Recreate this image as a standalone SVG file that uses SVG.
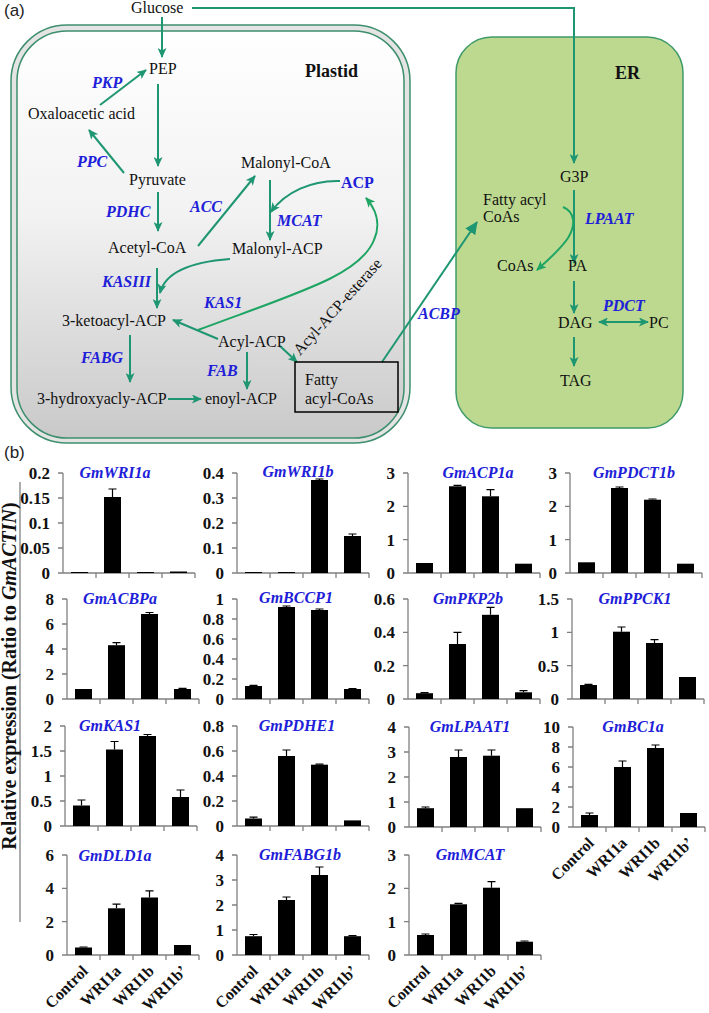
<svg xmlns="http://www.w3.org/2000/svg" width="709" height="1013" viewBox="0 0 709 1013">
<style>
.t{font-family:"Liberation Serif","Times New Roman",serif;font-size:16px;fill:#111}
.e{font-family:"Liberation Serif","Times New Roman",serif;font-size:16px;font-weight:bold;font-style:italic;fill:#2020d8}
.b{font-family:"Liberation Serif","Times New Roman",serif;font-weight:bold;fill:#111}
.lab{font-family:"Liberation Sans",Arial,sans-serif;font-size:17px;fill:#222}
.ar{fill:none;stroke:#1f9672;stroke-width:2}
.cv{fill:none;stroke:#1ea563;stroke-width:2}
.ax{fill:none;stroke:#808080;stroke-width:1.3}
.bar{fill:#000}
.eb{fill:none;stroke:#000;stroke-width:1.2}
.tk{font-family:"Liberation Serif","Times New Roman",serif;font-size:17px;font-weight:bold;fill:#111;text-anchor:end}
.ti{font-family:"Liberation Serif","Times New Roman",serif;font-size:16px;font-weight:bold;font-style:italic;fill:#2020d8;text-anchor:middle}
.xl{font-family:"Liberation Serif","Times New Roman",serif;font-size:16px;font-weight:bold;fill:#111;text-anchor:end}
</style>
<defs>
<linearGradient id="pg" x1="0" y1="0" x2="0" y2="1">
<stop offset="0" stop-color="#ffffff"/>
<stop offset="0.45" stop-color="#f2f2f2"/>
<stop offset="1" stop-color="#c9c9c9"/>
</linearGradient>
<marker id="mt" markerUnits="userSpaceOnUse" markerWidth="11" markerHeight="9" refX="9" refY="4.5" orient="auto-start-reverse"><path d="M0,0 L10,4.5 L0,9 L2.5,4.5 z" fill="#1f9672"/></marker>
<marker id="mg" markerUnits="userSpaceOnUse" markerWidth="11" markerHeight="9" refX="9" refY="4.5" orient="auto"><path d="M0,0 L10,4.5 L0,9 L2.5,4.5 z" fill="#1ea563"/></marker>
<marker id="mb" markerUnits="userSpaceOnUse" markerWidth="14" markerHeight="12" refX="12" refY="6" orient="auto"><path d="M0,0 L13,6 L0,12 z" fill="#1f9672"/></marker>
</defs>
<rect width="709" height="1013" fill="#fff"/>

<text class="lab" x="4" y="16">(a)</text>
<text class="lab" x="4" y="458">(b)</text>

<!-- compartments -->
<g id="plastid">
<rect x="11" y="25" width="399" height="418" rx="56" fill="#e4e4e4" stroke="#3d8f6e" stroke-width="1.5"/>
<rect x="17" y="31" width="387" height="407" rx="50" fill="url(#pg)" stroke="#3d8f6e" stroke-width="1.5"/>
<text class="b" x="305" y="77" font-size="18">Plastid</text>
</g>
<g id="er">
<rect x="456" y="37" width="227" height="391" rx="36" fill="#bcd98f" stroke="#3f9a6a" stroke-width="1.5"/>
<text class="b" x="615" y="79" font-size="18">ER</text>
</g>

<!-- connectors -->
<g id="connectors">
<path class="ar" d="M162,17 V57" marker-end="url(#mt)"/>
<path class="ar" d="M192,8 H574 V163" stroke-width="1.6" marker-end="url(#mt)"/>
<path class="ar" d="M100,105 L146,70" marker-end="url(#mt)"/>
<path class="ar" d="M158,84 V166" marker-end="url(#mt)"/>
<path class="ar" d="M124,173 L89,130" marker-end="url(#mt)"/>
<path class="ar" d="M158,192 V231" marker-end="url(#mt)"/>
<path class="ar" d="M198,246 L255,176" marker-end="url(#mt)"/>
<path class="ar" d="M270,180 V240" marker-end="url(#mt)"/>
<path class="ar" d="M340,181 C312,180 285,192 271,212" marker-end="url(#mt)"/>
<path class="ar" d="M230,259 C190,262 165,272 160,293" marker-end="url(#mt)"/>
<path class="ar" d="M157,268 V308" marker-end="url(#mt)"/>
<path class="cv" d="M198,330 C300,292 360,275 374,240 C382,222 374,207 366,198" marker-end="url(#mg)"/>
<path class="ar" d="M218,339 L173,320" marker-end="url(#mt)"/>
<path class="ar" d="M280,346 L297,362" marker-end="url(#mt)"/>
<path class="ar" d="M130,335 V382" marker-end="url(#mt)"/>
<path class="ar" d="M247,352 V389" marker-end="url(#mt)"/>
<path class="ar" d="M168,399 H201" marker-end="url(#mt)"/>
<path class="ar" d="M382,362 L477,222" stroke-width="3.5" marker-end="url(#mb)"/>
<path class="ar" d="M574,190 V263" marker-end="url(#mt)"/>
<path class="cv" d="M563,207 C575,212 576,225 568,238 C560,250 548,260 537,270" marker-end="url(#mg)"/>
<path class="ar" d="M574,281 V313" marker-end="url(#mt)"/>
<path class="ar" d="M599,322 H648" marker-start="url(#mt)" marker-end="url(#mt)"/>
<path class="ar" d="M574,337 V366" marker-end="url(#mt)"/>
</g>

<!-- metabolite nodes -->
<g id="n-glucose"><text class="t" x="131" y="13">Glucose</text></g>
<g id="n-pep"><text class="t" x="149" y="74">PEP</text></g>
<g id="n-oaa"><text class="t" x="28" y="119">Oxaloacetic acid</text></g>
<g id="n-pyruvate"><text class="t" x="129" y="185">Pyruvate</text></g>
<g id="n-malcoa"><text class="t" x="241" y="168">Malonyl-CoA</text></g>
<g id="n-acp"><text class="b" x="341" y="188" font-size="16" style="fill:#2020d8">ACP</text></g>
<g id="n-acetylcoa"><text class="t" x="108" y="253">Acetyl-CoA</text></g>
<g id="n-malacp"><text class="t" x="232" y="254">Malonyl-ACP</text></g>
<g id="n-ketoacyl"><text class="t" x="62" y="326">3-ketoacyl-ACP</text></g>
<g id="n-acylacp"><text class="t" x="218" y="347">Acyl-ACP</text></g>
<g id="n-hydroxy"><text class="t" x="37" y="404">3-hydroxyacly-ACP</text></g>
<g id="n-enoyl"><text class="t" x="205" y="404">enoyl-ACP</text></g>
<g id="n-fattybox"><rect x="295" y="362" width="103" height="50" fill="none" stroke="#000" stroke-width="1.5"/><text class="t" x="305" y="385">Fatty</text><text class="t" x="305" y="404">acyl-CoAs</text></g>
<g id="n-g3p"><text class="t" x="560" y="182">G3P</text></g>
<g id="n-facoas"><text class="t" x="483" y="205">Fatty acyl</text><text class="t" x="483" y="222">CoAs</text></g>
<g id="n-coas"><text class="t" x="497" y="271">CoAs</text></g>
<g id="n-pa"><text class="t" x="568" y="271">PA</text></g>
<g id="n-dag"><text class="t" x="558" y="328">DAG</text></g>
<g id="n-pc"><text class="t" x="649" y="328">PC</text></g>
<g id="n-tag"><text class="t" x="560" y="386">TAG</text></g>

<!-- enzyme labels -->
<g id="enzymes">
<text class="e" x="92" y="88">PKP</text>
<text class="e" x="77" y="167">PPC</text>
<text class="e" x="190" y="212">ACC</text>
<text class="e" x="106" y="217">PDHC</text>
<text class="e" x="277" y="226">MCAT</text>
<text class="e" x="102" y="287">KASIII</text>
<text class="e" x="204" y="308">KAS1</text>
<text class="e" x="81" y="363">FABG</text>
<text class="e" x="207" y="376">FAB</text>
<text class="e" x="418" y="319">ACBP</text>
<text class="e" x="585" y="224">LPAAT</text>
<text class="e" x="603" y="311">PDCT</text>
<text class="t" transform="translate(300,356) rotate(-48)">Acyl-ACP-esterase</text>
</g>

<!-- panel b -->
<g id="yaxis-title">
<line x1="20" y1="482" x2="20" y2="922" stroke="#808080" stroke-width="1.3"/>
<text class="b" font-size="20" text-anchor="middle" transform="translate(16,676) rotate(-90)">Relative expression (Ratio to <tspan font-style="italic">GmACTIN</tspan>)</text>
</g>

<!-- Row 1 -->
<g id="c-GmWRI1a" transform="translate(63,573)">
<path class="ax" d="M0,0V-100M-5,0H0M-5,-25H0M-5,-50H0M-5,-75H0M-5,-100H0M0,0H132M33,0v5M66,0v5M99,0v5M132,0v5"/>
<text class="tk" x="-13" y="6">0</text><text class="tk" x="-13" y="-19">0.05</text><text class="tk" x="-13" y="-44">0.1</text><text class="tk" x="-13" y="-69">0.15</text><text class="tk" x="-13" y="-94">0.2</text>
<rect class="bar" x="8" y="-1" width="17" height="1"/><rect class="bar" x="41" y="-76" width="17" height="76"/><rect class="bar" x="74" y="-1" width="17" height="1"/><rect class="bar" x="107" y="-1.5" width="17" height="1.5"/>
<path class="eb" d="M49.5,-76V-84M45.5,-84h8"/>
<text class="ti" x="52" y="-95">GmWRI1a</text>
</g>
<g id="c-GmWRI1b" transform="translate(237,573)">
<path class="ax" d="M0,0V-100M-5,0H0M-5,-25H0M-5,-50H0M-5,-75H0M-5,-100H0M0,0H132M33,0v5M66,0v5M99,0v5M132,0v5"/>
<text class="tk" x="-13" y="6">0</text><text class="tk" x="-13" y="-19">0.1</text><text class="tk" x="-13" y="-44">0.2</text><text class="tk" x="-13" y="-69">0.3</text><text class="tk" x="-13" y="-94">0.4</text>
<rect class="bar" x="8" y="-1" width="17" height="1"/><rect class="bar" x="41" y="-1" width="17" height="1"/><rect class="bar" x="74" y="-93" width="17" height="93"/><rect class="bar" x="107" y="-37" width="17" height="37"/>
<path class="eb" d="M82.5,-93V-94M78.5,-94h8M115.5,-37V-39M111.5,-39h8"/>
<text class="ti" x="61" y="-96">GmWRI1b</text>
</g>
<g id="c-GmACP1a" transform="translate(408,573)">
<path class="ax" d="M0,0V-100M-5,0H0M-5,-33.3H0M-5,-66.7H0M-5,-100H0M0,0H132M33,0v5M66,0v5M99,0v5M132,0v5"/>
<text class="tk" x="-13" y="6">0</text><text class="tk" x="-13" y="-27">1</text><text class="tk" x="-13" y="-61">2</text><text class="tk" x="-13" y="-94">3</text>
<rect class="bar" x="8" y="-10" width="17" height="10"/><rect class="bar" x="41" y="-86.7" width="17" height="86.7"/><rect class="bar" x="74" y="-76.7" width="17" height="76.7"/><rect class="bar" x="107" y="-9.3" width="17" height="9.3"/>
<path class="eb" d="M49.5,-86.7V-87.7M45.5,-87.7h8M82.5,-76.7V-83.3M78.5,-83.3h8"/>
<text class="ti" x="70" y="-95">GmACP1a</text>
</g>
<g id="c-GmPDCT1b" transform="translate(570,573)">
<path class="ax" d="M0,0V-100M-5,0H0M-5,-33.3H0M-5,-66.7H0M-5,-100H0M0,0H132M33,0v5M66,0v5M99,0v5M132,0v5"/>
<text class="tk" x="-13" y="6">0</text><text class="tk" x="-13" y="-27">1</text><text class="tk" x="-13" y="-61">2</text><text class="tk" x="-13" y="-94">3</text>
<rect class="bar" x="8" y="-10.7" width="17" height="10.7"/><rect class="bar" x="41" y="-85" width="17" height="85"/><rect class="bar" x="74" y="-73.3" width="17" height="73.3"/><rect class="bar" x="107" y="-9.3" width="17" height="9.3"/>
<path class="eb" d="M49.5,-85V-86M45.5,-86h8M82.5,-73.3V-74M78.5,-74h8"/>
<text class="ti" x="64" y="-95">GmPDCT1b</text>
</g>

<!-- Row 2 -->
<g id="c-GmACBPa" transform="translate(67,699)">
<path class="ax" d="M0,0V-100M-5,0H0M-5,-25H0M-5,-50H0M-5,-75H0M-5,-100H0M0,0H132M33,0v5M66,0v5M99,0v5M132,0v5"/>
<text class="tk" x="-13" y="6">0</text><text class="tk" x="-13" y="-19">2</text><text class="tk" x="-13" y="-44">4</text><text class="tk" x="-13" y="-69">6</text><text class="tk" x="-13" y="-94">8</text>
<rect class="bar" x="8" y="-10" width="17" height="10"/><rect class="bar" x="41" y="-53.8" width="17" height="53.8"/><rect class="bar" x="74" y="-85" width="17" height="85"/><rect class="bar" x="107" y="-10" width="17" height="10"/>
<path class="eb" d="M49.5,-53.8V-56.3M45.5,-56.3h8M82.5,-85V-86.5M78.5,-86.5h8M115.5,-10V-10.6M111.5,-10.6h8"/>
<text class="ti" x="53" y="-95">GmACBPa</text>
</g>
<g id="c-GmBCCP1" transform="translate(237,699)">
<path class="ax" d="M0,0V-100M-5,0H0M-5,-20H0M-5,-40H0M-5,-60H0M-5,-80H0M-5,-100H0M0,0H132M33,0v5M66,0v5M99,0v5M132,0v5"/>
<text class="tk" x="-13" y="6">0</text><text class="tk" x="-13" y="-14">0.2</text><text class="tk" x="-13" y="-34">0.4</text><text class="tk" x="-13" y="-54">0.6</text><text class="tk" x="-13" y="-74">0.8</text><text class="tk" x="-13" y="-94">1</text>
<rect class="bar" x="8" y="-13" width="17" height="13"/><rect class="bar" x="41" y="-92" width="17" height="92"/><rect class="bar" x="74" y="-89" width="17" height="89"/><rect class="bar" x="107" y="-10" width="17" height="10"/>
<path class="eb" d="M16.5,-13V-13.6M12.5,-13.6h8M49.5,-92V-93M45.5,-93h8M82.5,-89V-90M78.5,-90h8M115.5,-10V-10.5M111.5,-10.5h8"/>
<text class="ti" x="59" y="-96">GmBCCP1</text>
</g>
<g id="c-GmPKP2b" transform="translate(408,699)">
<path class="ax" d="M0,0V-100M-5,0H0M-5,-33.3H0M-5,-66.7H0M-5,-100H0M0,0H132M33,0v5M66,0v5M99,0v5M132,0v5"/>
<text class="tk" x="-13" y="6">0</text><text class="tk" x="-13" y="-27">0.2</text><text class="tk" x="-13" y="-61">0.4</text><text class="tk" x="-13" y="-94">0.6</text>
<rect class="bar" x="8" y="-5.8" width="17" height="5.8"/><rect class="bar" x="41" y="-55" width="17" height="55"/><rect class="bar" x="74" y="-84.2" width="17" height="84.2"/><rect class="bar" x="107" y="-6.7" width="17" height="6.7"/>
<path class="eb" d="M16.5,-5.8V-6.3M12.5,-6.3h8M49.5,-55V-66.7M45.5,-66.7h8M82.5,-84.2V-91.7M78.5,-91.7h8M115.5,-6.7V-8.3M111.5,-8.3h8"/>
<text class="ti" x="60" y="-95">GmPKP2b</text>
</g>
<g id="c-GmPPCK1" transform="translate(572,699)">
<path class="ax" d="M0,0V-100M-5,0H0M-5,-33.3H0M-5,-66.7H0M-5,-100H0M0,0H132M33,0v5M66,0v5M99,0v5M132,0v5"/>
<text class="tk" x="-13" y="6">0</text><text class="tk" x="-13" y="-27">0.5</text><text class="tk" x="-13" y="-61">1</text><text class="tk" x="-13" y="-94">1.5</text>
<rect class="bar" x="8" y="-14" width="17" height="14"/><rect class="bar" x="41" y="-67.3" width="17" height="67.3"/><rect class="bar" x="74" y="-56" width="17" height="56"/><rect class="bar" x="107" y="-22" width="17" height="22"/>
<path class="eb" d="M16.5,-14V-14.7M12.5,-14.7h8M49.5,-67.3V-72M45.5,-72h8M82.5,-56V-59.3M78.5,-59.3h8"/>
<text class="ti" x="63" y="-95">GmPPCK1</text>
</g>

<!-- Row 3 -->
<g id="c-GmKAS1" transform="translate(65,826)">
<path class="ax" d="M0,0V-100M-5,0H0M-5,-25H0M-5,-50H0M-5,-75H0M-5,-100H0M0,0H132M33,0v5M66,0v5M99,0v5M132,0v5"/>
<text class="tk" x="-13" y="6">0</text><text class="tk" x="-13" y="-19">0.5</text><text class="tk" x="-13" y="-44">1</text><text class="tk" x="-13" y="-69">1.5</text><text class="tk" x="-13" y="-94">2</text>
<rect class="bar" x="8" y="-20.5" width="17" height="20.5"/><rect class="bar" x="41" y="-76.5" width="17" height="76.5"/><rect class="bar" x="74" y="-90" width="17" height="90"/><rect class="bar" x="107" y="-29" width="17" height="29"/>
<path class="eb" d="M16.5,-20.5V-26M12.5,-26h8M49.5,-76.5V-84.5M45.5,-84.5h8M82.5,-90V-91.5M78.5,-91.5h8M115.5,-29V-36M111.5,-36h8"/>
<text class="ti" x="45" y="-95">GmKAS1</text>
</g>
<g id="c-GmPDHE1" transform="translate(237,826)">
<path class="ax" d="M0,0V-100M-5,0H0M-5,-25H0M-5,-50H0M-5,-75H0M-5,-100H0M0,0H132M33,0v5M66,0v5M99,0v5M132,0v5"/>
<text class="tk" x="-13" y="6">0</text><text class="tk" x="-13" y="-19">0.2</text><text class="tk" x="-13" y="-44">0.4</text><text class="tk" x="-13" y="-69">0.6</text><text class="tk" x="-13" y="-94">0.8</text>
<rect class="bar" x="8" y="-7.5" width="17" height="7.5"/><rect class="bar" x="41" y="-70" width="17" height="70"/><rect class="bar" x="74" y="-61.3" width="17" height="61.3"/><rect class="bar" x="107" y="-5.6" width="17" height="5.6"/>
<path class="eb" d="M16.5,-7.5V-8.8M12.5,-8.8h8M49.5,-70V-76M45.5,-76h8M82.5,-61.3V-61.9M78.5,-61.9h8"/>
<text class="ti" x="60" y="-95">GmPDHE1</text>
</g>
<g id="c-GmLPAAT1" transform="translate(409,827)">
<path class="ax" d="M0,0V-100M-5,0H0M-5,-25H0M-5,-50H0M-5,-75H0M-5,-100H0M0,0H132M33,0v5M66,0v5M99,0v5M132,0v5"/>
<text class="tk" x="-13" y="6">0</text><text class="tk" x="-13" y="-19">1</text><text class="tk" x="-13" y="-44">2</text><text class="tk" x="-13" y="-69">3</text><text class="tk" x="-13" y="-94">4</text>
<rect class="bar" x="8" y="-18.8" width="17" height="18.8"/><rect class="bar" x="41" y="-70" width="17" height="70"/><rect class="bar" x="74" y="-71.3" width="17" height="71.3"/><rect class="bar" x="107" y="-18.8" width="17" height="18.8"/>
<path class="eb" d="M16.5,-18.8V-20M12.5,-20h8M49.5,-70V-77M45.5,-77h8M82.5,-71.3V-77M78.5,-77h8"/>
<text class="ti" x="61" y="-95">GmLPAAT1</text>
</g>
<g id="c-GmBC1a" transform="translate(573,827)">
<path class="ax" d="M0,0V-100M-5,0H0M-5,-20H0M-5,-40H0M-5,-60H0M-5,-80H0M-5,-100H0M0,0H132M33,0v5M66,0v5M99,0v5M132,0v5"/>
<text class="tk" x="-13" y="6">0</text><text class="tk" x="-13" y="-14">2</text><text class="tk" x="-13" y="-34">4</text><text class="tk" x="-13" y="-54">6</text><text class="tk" x="-13" y="-74">8</text><text class="tk" x="-13" y="-94">10</text>
<rect class="bar" x="8" y="-12" width="17" height="12"/><rect class="bar" x="41" y="-60" width="17" height="60"/><rect class="bar" x="74" y="-79" width="17" height="79"/><rect class="bar" x="107" y="-14" width="17" height="14"/>
<path class="eb" d="M16.5,-12V-14M12.5,-14h8M49.5,-60V-66M45.5,-66h8M82.5,-79V-82M78.5,-82h8"/>
<text class="ti" x="60" y="-95">GmBC1a</text>
<text class="xl" transform="translate(22,17) rotate(-45)">Control</text>
<text class="xl" transform="translate(55,17) rotate(-45)">WRI1a</text>
<text class="xl" transform="translate(88,17) rotate(-45)">WRI1b</text>
<text class="xl" transform="translate(121,17) rotate(-45)">WRI1b’</text>
</g>

<!-- Row 4 -->
<g id="c-GmDLD1a" transform="translate(67,955)">
<path class="ax" d="M0,0V-100M-5,0H0M-5,-33.3H0M-5,-66.7H0M-5,-100H0M0,0H132M33,0v5M66,0v5M99,0v5M132,0v5"/>
<text class="tk" x="-13" y="6">0</text><text class="tk" x="-13" y="-27">2</text><text class="tk" x="-13" y="-61">4</text><text class="tk" x="-13" y="-94">6</text>
<rect class="bar" x="8" y="-7.5" width="17" height="7.5"/><rect class="bar" x="41" y="-46.7" width="17" height="46.7"/><rect class="bar" x="74" y="-57.5" width="17" height="57.5"/><rect class="bar" x="107" y="-10" width="17" height="10"/>
<path class="eb" d="M16.5,-7.5V-8M12.5,-8h8M49.5,-46.7V-50.8M45.5,-50.8h8M82.5,-57.5V-64.2M78.5,-64.2h8"/>
<text class="ti" x="48" y="-94">GmDLD1a</text>
<text class="xl" transform="translate(22,17) rotate(-45)">Control</text>
<text class="xl" transform="translate(55,17) rotate(-45)">WRI1a</text>
<text class="xl" transform="translate(88,17) rotate(-45)">WRI1b</text>
<text class="xl" transform="translate(121,17) rotate(-45)">WRI1b’</text>
</g>
<g id="c-GmFABG1b" transform="translate(237,955)">
<path class="ax" d="M0,0V-100M-5,0H0M-5,-25H0M-5,-50H0M-5,-75H0M-5,-100H0M0,0H132M33,0v5M66,0v5M99,0v5M132,0v5"/>
<text class="tk" x="-13" y="6">0</text><text class="tk" x="-13" y="-19">1</text><text class="tk" x="-13" y="-44">2</text><text class="tk" x="-13" y="-69">3</text><text class="tk" x="-13" y="-94">4</text>
<rect class="bar" x="8" y="-18.8" width="17" height="18.8"/><rect class="bar" x="41" y="-55" width="17" height="55"/><rect class="bar" x="74" y="-80" width="17" height="80"/><rect class="bar" x="107" y="-18.8" width="17" height="18.8"/>
<path class="eb" d="M16.5,-18.8V-20.5M12.5,-20.5h8M49.5,-55V-58M45.5,-58h8M82.5,-80V-88M78.5,-88h8M115.5,-18.8V-19.3M111.5,-19.3h8"/>
<text class="ti" x="63" y="-95">GmFABG1b</text>
<text class="xl" transform="translate(22,17) rotate(-45)">Control</text>
<text class="xl" transform="translate(55,17) rotate(-45)">WRI1a</text>
<text class="xl" transform="translate(88,17) rotate(-45)">WRI1b</text>
<text class="xl" transform="translate(121,17) rotate(-45)">WRI1b’</text>
</g>
<g id="c-GmMCAT" transform="translate(409,955)">
<path class="ax" d="M0,0V-100M-5,0H0M-5,-33.3H0M-5,-66.7H0M-5,-100H0M0,0H132M33,0v5M66,0v5M99,0v5M132,0v5"/>
<text class="tk" x="-13" y="6">0</text><text class="tk" x="-13" y="-27">1</text><text class="tk" x="-13" y="-61">2</text><text class="tk" x="-13" y="-94">3</text>
<rect class="bar" x="8" y="-20" width="17" height="20"/><rect class="bar" x="41" y="-50.7" width="17" height="50.7"/><rect class="bar" x="74" y="-67.3" width="17" height="67.3"/><rect class="bar" x="107" y="-13.3" width="17" height="13.3"/>
<path class="eb" d="M16.5,-20V-21M12.5,-21h8M49.5,-50.7V-51.7M45.5,-51.7h8M82.5,-67.3V-73.3M78.5,-73.3h8M115.5,-13.3V-14M111.5,-14h8"/>
<text class="ti" x="61" y="-95">GmMCAT</text>
<text class="xl" transform="translate(22,17) rotate(-45)">Control</text>
<text class="xl" transform="translate(55,17) rotate(-45)">WRI1a</text>
<text class="xl" transform="translate(88,17) rotate(-45)">WRI1b</text>
<text class="xl" transform="translate(121,17) rotate(-45)">WRI1b’</text>
</g>
</svg>
